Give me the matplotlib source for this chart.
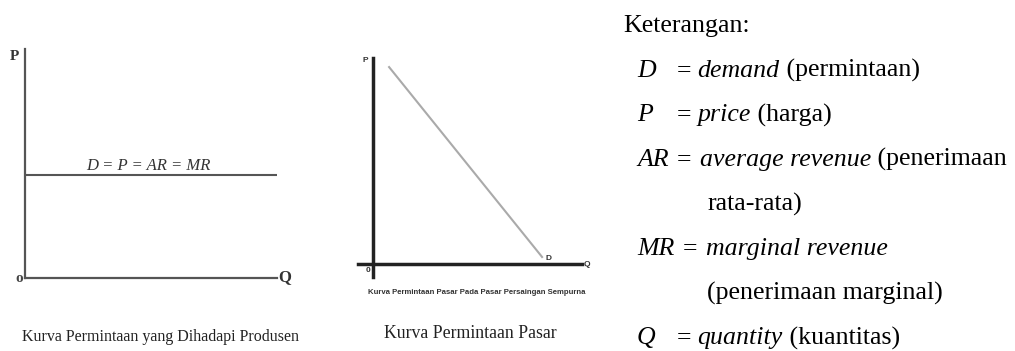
import matplotlib
matplotlib.use("Agg")
import matplotlib.pyplot as plt

W, H = 1015, 351

# left chart: horizontal demand faced by the producer
flat_q = [0, 10]
flat_p = [4.5, 4.5]
flat_label = "D = P = AR = MR"

# middle chart: downward market demand
market_q = [0.77, 8.09]
market_p = [9.56, 0.34]

captions = ["Kurva Permintaan yang Dihadapi Produsen", "Kurva Permintaan Pasar"]
small_caption = "Kurva Permintaan Pasar Pada Pasar Persaingan Sempurna"

# legend lines: (symbol, italic term, plain text)
legend_title = "Keterangan:"
legend_rows = [
    ("D", "demand", " (permintaan)"),
    ("P", "price", " (harga)"),
    ("AR", "average revenue", " (penerimaan"),
    (None, None, "rata-rata)"),
    ("MR", "marginal revenue", ""),
    (None, None, "(penerimaan marginal)"),
    ("Q", "quantity", " (kuantitas)"),
]

SERIF = "Liberation Serif"
SANS = "Liberation Sans"


def rect(left, top, right, bottom):
    return [left / W, 1 - bottom / H, (right - left) / W, (bottom - top) / H]


def fx(x):
    return x / W


def fy(y):
    return 1 - y / H


fig = plt.figure(figsize=(W / 100, H / 100), dpi=100)
fig.patch.set_facecolor("white")

# ---- left chart
ax1 = fig.add_axes(rect(25, 49, 277, 278))
ax1.set_xlim(0, 10)
ax1.set_ylim(0, 10)
ax1.plot(flat_q, flat_p, color="#555555", lw=1.5, solid_capstyle="butt")
for s in ["top", "right"]:
    ax1.spines[s].set_visible(False)
for s in ["left", "bottom"]:
    ax1.spines[s].set_color("#555555")
    ax1.spines[s].set_linewidth(1.6)
ax1.set_xticks([])
ax1.set_yticks([])
ax1.patch.set_alpha(0)
ax1.text(4.9, 4.55, flat_label, ha="center", va="bottom", fontsize=12,
         style="italic", family=SERIF, color="#333333")

fig.text(fx(14), fy(57), "P", ha="center", va="center", fontsize=11,
         family=SERIF, weight="bold", color="#333333")
fig.text(fx(19), fy(279), "o", ha="center", va="center", fontsize=11,
         family=SERIF, weight="bold", color="#444444")
fig.text(fx(285), fy(277), "Q", ha="center", va="center", fontsize=12,
         family=SERIF, weight="bold", color="#333333")
fig.text(fx(161), fy(337), captions[0], ha="center", va="center", fontsize=11.5,
         family=SERIF, color="#222222")

# ---- middle chart
ax2 = fig.add_axes(rect(358, 58, 582, 277))
ax2.set_xlim(-0.718, 10)
ax2.set_ylim(-0.631, 10)
ax2.plot(market_q, market_p, color="#aaaaaa", lw=1.5)
for s in ["top", "right"]:
    ax2.spines[s].set_visible(False)
for s in ["left", "bottom"]:
    ax2.spines[s].set_position(("data", 0))
    ax2.spines[s].set_color("#222222")
    ax2.spines[s].set_linewidth(2.5)
ax2.set_xticks([])
ax2.set_yticks([])
ax2.patch.set_alpha(0)

fig.text(fx(365), fy(60), "P", ha="center", va="center", fontsize=6,
         family=SANS, weight="bold", color="#333333")
fig.text(fx(368), fy(271), "0", ha="center", va="center", fontsize=6,
         family=SANS, weight="bold", color="#333333")
fig.text(fx(548), fy(259), "D", ha="center", va="center", fontsize=6,
         family=SANS, weight="bold", color="#333333")
fig.text(fx(587), fy(264), "Q", ha="center", va="center", fontsize=6,
         family=SANS, weight="bold", color="#333333")
fig.text(fx(477), fy(292), small_caption, ha="center", va="center", fontsize=5.6,
         family=SANS, weight="bold", color="#333333")
fig.text(fx(470), fy(333), captions[1], ha="center", va="center", fontsize=12.8,
         family=SERIF, color="#222222")

# ---- legend text on the right
FS = 18.6
renderer = fig.canvas.get_renderer()


def chain(x, y, parts):
    for txt, style, gap in parts:
        if not txt:
            continue
        t = fig.text(fx(x), fy(y), txt, ha="left", va="baseline", fontsize=FS,
                     family=SERIF, style=style, color="black")
        bb = t.get_window_extent(renderer)
        x += bb.width + gap


fig.text(fx(623), fy(32), legend_title, ha="left", va="baseline", fontsize=FS,
         family=SERIF, color="black")

base = 32
step = 44.6
for i, (sym, term, plain) in enumerate(legend_rows):
    y = base + step * (i + 1)
    if sym is None:
        chain(707, y, [(plain, "normal", 0)])
        continue
    fig.text(fx(637), fy(y), sym, ha="left", va="baseline", fontsize=FS,
             family=SERIF, style="italic", color="black")
    eq_x = 683 if sym == "MR" else 677
    chain(eq_x, y, [("=", "normal", 8 if sym in ("AR", "MR") else 6),
                    (term, "italic", 0), (plain, "normal", 0)])

fig.savefig("out.png", dpi=100, facecolor="white")
